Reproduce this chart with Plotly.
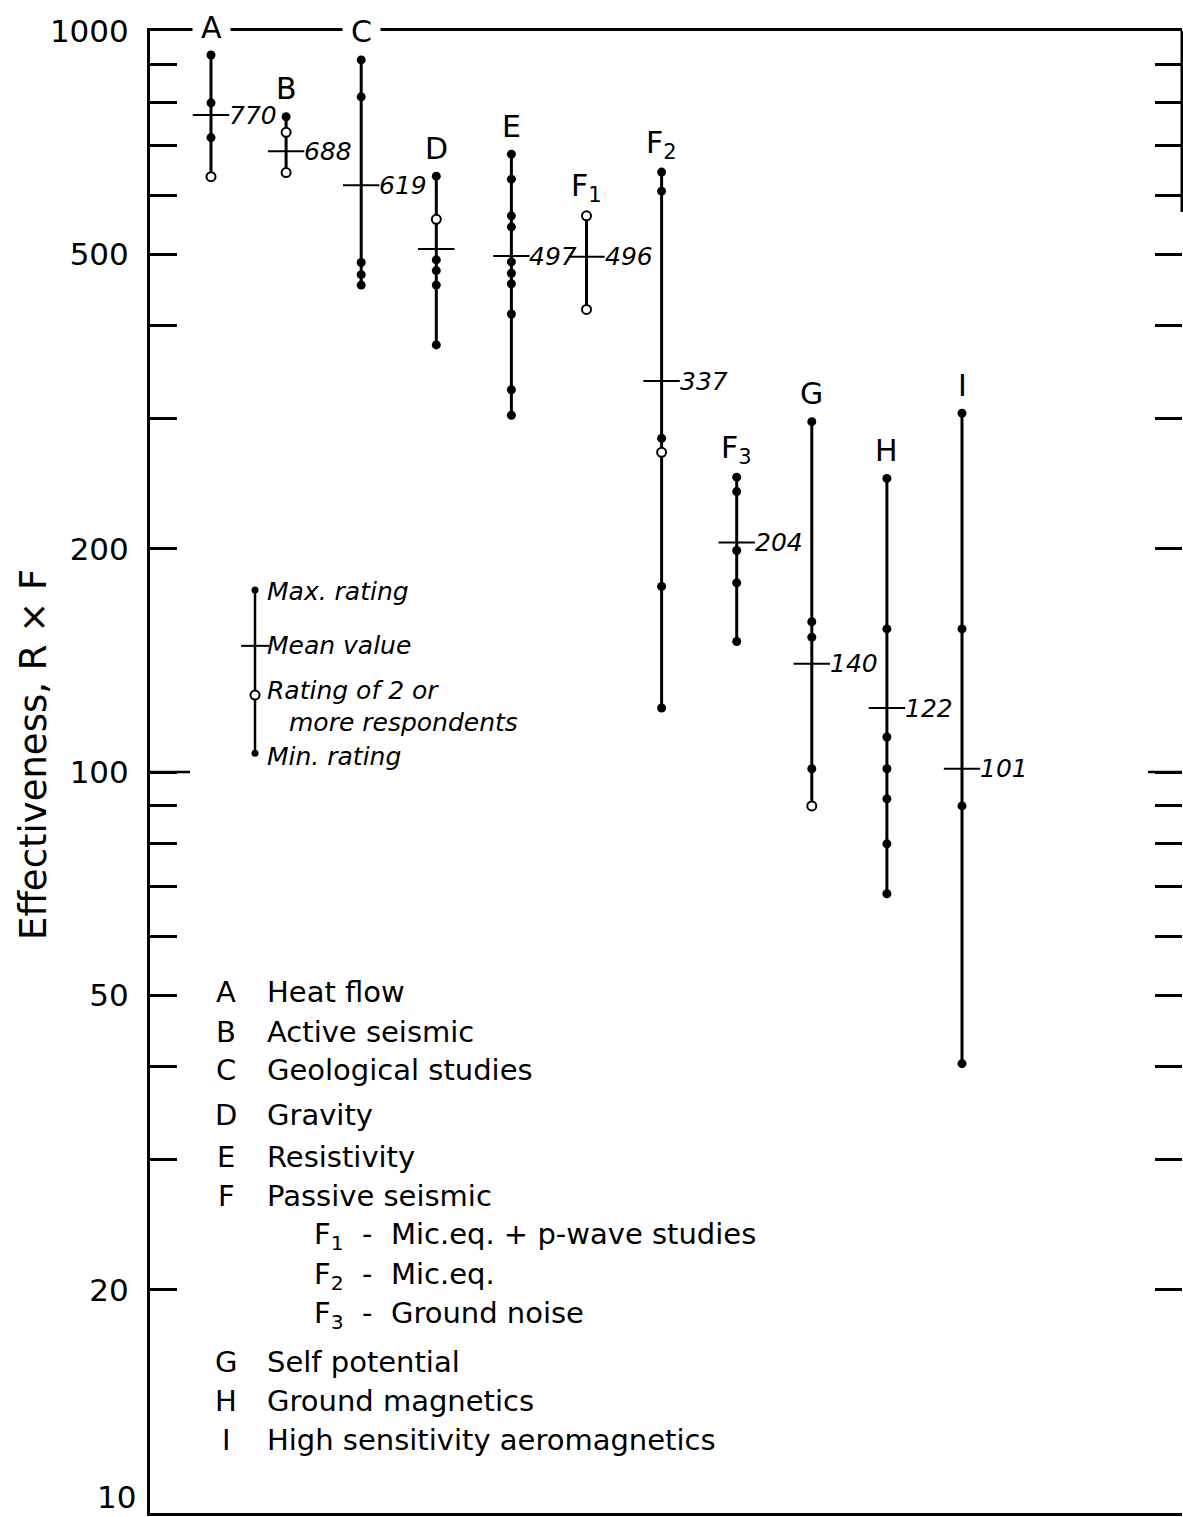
import math
import plotly.graph_objects as go

# ---------------- data ----------------
CATEGORIES = ["A", "B", "C", "D", "E", "F1", "F2", "F3", "G", "H", "I"]
CAT_LABELS = ["A", "B", "C", "D", "E", "F<sub>1</sub>", "F<sub>2</sub>", "F<sub>3</sub>", "G", "H", "I"]
MEANS = [770, 688, 619, 508, 497, 496, 337, 204, 140, 122, 101]
MEAN_LABELS = ["770", "688", "619", "", "497", "496", "337", "204", "140", "122", "101"]

FILLED_A = [928, 800, 718]
FILLED_B = [766]
FILLED_C = [914, 815, 487, 469, 454]
FILLED_D = [637, 491, 475, 454, 377]
FILLED_E = [682, 631, 563, 544, 488, 471, 456, 415, 328, 303]
FILLED_F1 = []
FILLED_F2 = [645, 608, 282, 178, 122]
FILLED_F3 = [250, 239, 199, 180, 150]
FILLED_G = [297, 159.5, 152, 101]
FILLED_H = [249, 156, 111.5, 101, 92, 80, 68.5]
FILLED_I = [305, 156, 90, 40.4]

OPEN_A = [636]
OPEN_B = [730, 644]
OPEN_C = []
OPEN_D = [557]
OPEN_E = []
OPEN_F1 = [563, 421]
OPEN_F2 = [270]
OPEN_F3 = []
OPEN_G = [90]
OPEN_H = []
OPEN_I = []

FILLED = [FILLED_A, FILLED_B, FILLED_C, FILLED_D, FILLED_E, FILLED_F1,
          FILLED_F2, FILLED_F3, FILLED_G, FILLED_H, FILLED_I]
OPEN = [OPEN_A, OPEN_B, OPEN_C, OPEN_D, OPEN_E, OPEN_F1,
        OPEN_F2, OPEN_F3, OPEN_G, OPEN_H, OPEN_I]

# key (explanation of symbols)
KEY_X = 0.586
KEY_MAX = 176
KEY_MEAN = 148
KEY_OPEN = 127
KEY_MIN = 106
KEY_TEXTS = ["Max. rating", "Mean value", "Rating of 2 or", "more respondents", "Min. rating"]

LEGEND_LETTERS = ["A", "B", "C", "D", "E", "F", "", "", "", "G", "H", "I"]
LEGEND_NAMES = ["Heat flow", "Active seismic", "Geological studies", "Gravity",
                "Resistivity", "Passive seismic",
                "F<sub>1</sub>  -  Mic.eq. + p-wave studies",
                "F<sub>2</sub>  -  Mic.eq.",
                "F<sub>3</sub>  -  Ground noise",
                "Self potential", "Ground magnetics", "High sensitivity aeromagnetics"]

LEFT_TICKS = [1000, 900, 800, 700, 600, 500, 400, 300, 200, 100, 90, 80, 70, 60, 50, 40, 30, 20, 10]
LEFT_LABELS = {1000: "1000", 500: "500", 200: "200", 100: "100", 50: "50", 20: "20"}
BOTTOM_LABEL = "10"
RIGHT_TICKS = [900, 800, 700, 600, 500, 400, 300, 200, 100, 90, 80, 70, 60, 50, 40, 30, 20]

# ---------------- layout geometry ----------------
W, H = 1183, 1517
L, R, T, B = 150, 1, 31, 4
PW, PH = W - L - R, H - T - B


def px(xp):
    return (xp - L) / PW


def py(yp):
    return (H - B - yp) / PH


FONT = "DejaVu Sans"
xs = list(range(len(CATEGORIES)))

fig = go.Figure()

# vertical range lines
lx, ly = [], []
for i in xs:
    vals = FILLED[i] + OPEN[i] + [MEANS[i]]
    lx += [i, i, None]
    ly += [min(vals), max(vals), None]
fig.add_trace(go.Scatter(x=lx, y=ly, mode="lines", line=dict(color="black", width=3),
                         hoverinfo="skip"))

# key line
fig.add_trace(go.Scatter(x=[KEY_X, KEY_X], y=[KEY_MIN, KEY_MAX], mode="lines",
                         line=dict(color="black", width=2.5), hoverinfo="skip"))

# filled points
fx, fy = [], []
for i in xs:
    for v in FILLED[i]:
        fx.append(i)
        fy.append(v)
fig.add_trace(go.Scatter(x=fx, y=fy, mode="markers",
                         marker=dict(symbol="circle", size=9, color="black")))
fig.add_trace(go.Scatter(x=[KEY_X, KEY_X], y=[KEY_MAX, KEY_MIN], mode="markers",
                         marker=dict(symbol="circle", size=7, color="black")))

# open points
ox, oy = [], []
for i in xs:
    for v in OPEN[i]:
        ox.append(i)
        oy.append(v)
fig.add_trace(go.Scatter(x=ox + [KEY_X], y=oy + [KEY_OPEN], mode="markers",
                         marker=dict(symbol="circle", size=9, color="white",
                                     line=dict(color="black", width=2))))

# mean ticks
fig.add_trace(go.Scatter(x=xs, y=MEANS, mode="markers",
                         marker=dict(symbol="line-ew", size=26,
                                     line=dict(color="black", width=2))))
fig.add_trace(go.Scatter(x=[KEY_X], y=[KEY_MEAN], mode="markers",
                         marker=dict(symbol="line-ew", size=20,
                                     line=dict(color="black", width=2))))

# invisible trace to anchor right axis
fig.add_trace(go.Scatter(x=[0], y=[100], yaxis="y2", mode="markers",
                         marker=dict(opacity=0), hoverinfo="skip"))

ann = []
# category labels (annotations on a log axis take log10 positions)
for i in xs:
    top = max(FILLED[i] + OPEN[i] + [MEANS[i]])
    a = dict(x=i, y=math.log10(top), xref="x", yref="y", text=CAT_LABELS[i], showarrow=False,
             yshift=28, font=dict(family=FONT, size=30, color="black"),
             xanchor="center", yanchor="middle")
    if CATEGORIES[i] in ("A", "C"):
        a.update(text="\u2009" + CAT_LABELS[i] + "\u2009", bgcolor="white", borderpad=2)
    ann.append(a)

# mean labels
for i in xs:
    if MEAN_LABELS[i]:
        ann.append(dict(x=i, y=math.log10(MEANS[i]), xref="x", yref="y",
                        text="<i>" + MEAN_LABELS[i] + "</i>", showarrow=False,
                        xshift=16, xanchor="left", yanchor="middle",
                        font=dict(family=FONT, size=25, color="black")))

# key texts
key_pos = [(265, 591), (265, 645), (265, 690), (287, 722), (265, 756)]
for t, (xp, yp) in zip(KEY_TEXTS, key_pos):
    ann.append(dict(x=px(xp), y=py(yp), xref="paper", yref="paper", text="<i>" + t + "</i>",
                    showarrow=False, xanchor="left", yanchor="middle",
                    font=dict(family=FONT, size=25, color="black")))

# legend block
leg_y = [992, 1032, 1070, 1115, 1157, 1196, 1236, 1276, 1315, 1362, 1401, 1440]
for letter, name, yp in zip(LEGEND_LETTERS, LEGEND_NAMES, leg_y):
    if letter:
        ann.append(dict(x=px(226), y=py(yp), xref="paper", yref="paper", text=letter,
                        showarrow=False, xanchor="center", yanchor="middle",
                        font=dict(family=FONT, size=29, color="black")))
        xl = 265
    else:
        xl = 312
    ann.append(dict(x=px(xl), y=py(yp), xref="paper", yref="paper", text=name,
                    showarrow=False, xanchor="left", yanchor="middle",
                    font=dict(family=FONT, size=29, color="black")))

# bottom axis label (kept inside the page)
ann.append(dict(x=px(138), y=py(1517), xref="paper", yref="paper", text=BOTTOM_LABEL,
                showarrow=False, xanchor="right", yanchor="bottom",
                font=dict(family=FONT, size=31, color="black")))

# y-axis title
ann.append(dict(x=px(34), y=py(755), xref="paper", yref="paper",
                text="Effectiveness, R \u00d7 F", textangle=-90, showarrow=False,
                xanchor="center", yanchor="middle",
                font=dict(family=FONT, size=37, color="black")))

shapes = [
    # longer decade ticks at 100
    dict(type="line", xref="paper", yref="y", x0=0, x1=px(190), y0=100, y1=100,
         line=dict(color="black", width=2.5)),
    dict(type="line", xref="paper", yref="y", x0=px(1148), x1=1, y0=100, y1=100,
         line=dict(color="black", width=2.5)),
    # partial right frame at the top
    dict(type="line", xref="paper", yref="y", x0=1, x1=1, y0=1000, y1=570,
         line=dict(color="black", width=3)),
]

fig.update_layout(
    width=W, height=H,
    margin=dict(l=L, r=R, t=T, b=B, autoexpand=False),
    plot_bgcolor="white", paper_bgcolor="white",
    showlegend=False,
    font=dict(family=FONT, color="black"),
    xaxis=dict(range=[(L - 211) / 75.1, (W - R - 211) / 75.1], showline=True, mirror=True,
               linewidth=3, linecolor="black", showticklabels=False, ticks="",
               showgrid=False, zeroline=False, fixedrange=True, automargin=False),
    yaxis=dict(type="log", range=[1, 3], tickmode="array", tickvals=LEFT_TICKS,
               ticktext=[LEFT_LABELS.get(v, "") for v in LEFT_TICKS],
               ticks="inside", ticklen=27, tickwidth=2.5, tickcolor="black",
               showline=True, linewidth=3, linecolor="black", showgrid=False,
               zeroline=False, ticklabelstandoff=12, ticklabeloverflow="allow",
               automargin=False,
               tickfont=dict(family=FONT, size=31, color="black")),
    yaxis2=dict(type="log", range=[1, 3], overlaying="y", side="right", anchor="x",
                tickmode="array", tickvals=RIGHT_TICKS, ticktext=["" for _ in RIGHT_TICKS],
                ticks="inside", ticklen=27, tickwidth=2.5, tickcolor="black",
                showline=False, showgrid=False, zeroline=False, showticklabels=False,
                automargin=False),
    annotations=ann,
    shapes=shapes,
)

fig.write_html("out.html")
